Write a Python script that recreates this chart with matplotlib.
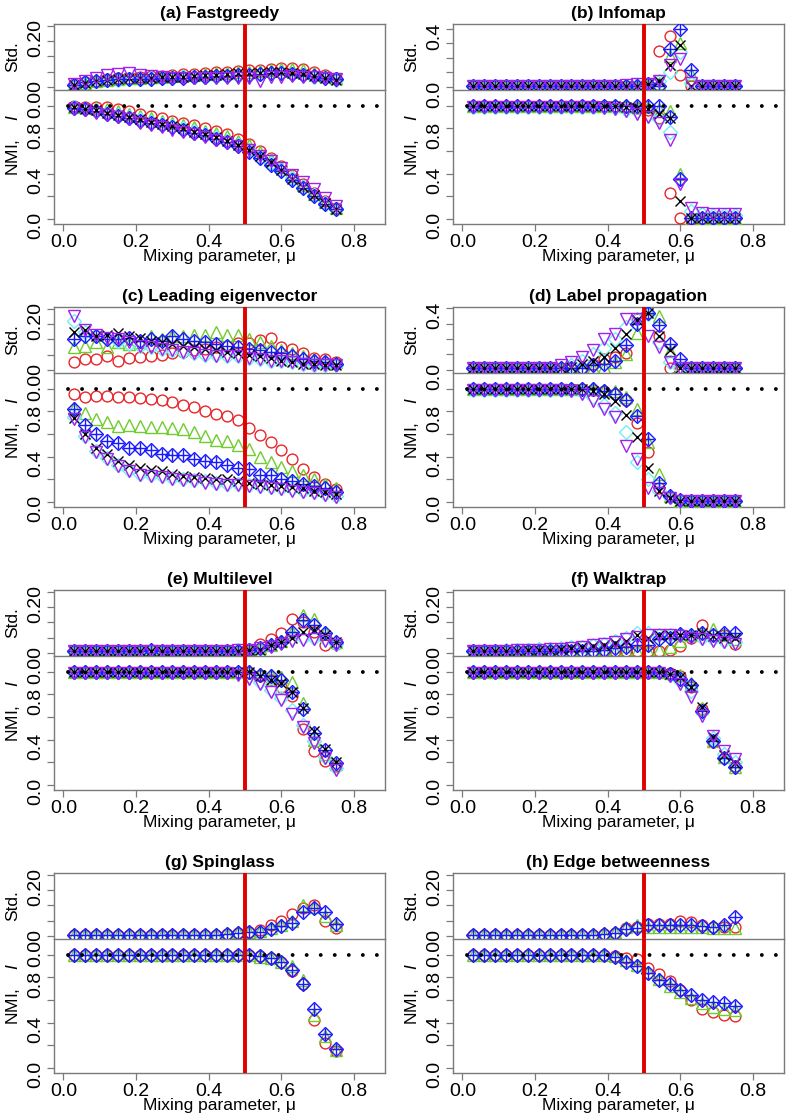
import matplotlib
matplotlib.use("Agg")
import matplotlib.pyplot as plt

plt.rcParams["font.family"] = ["Liberation Sans", "DejaVu Sans"]
plt.rcParams["mathtext.fontset"] = "custom"
plt.rcParams["mathtext.rm"] = "Liberation Sans"
plt.rcParams["mathtext.it"] = "Liberation Sans:italic"

# mixing parameter values
mu = [0.03, 0.06, 0.09, 0.12, 0.15, 0.18, 0.21, 0.24, 0.27, 0.30, 0.33, 0.36, 0.39,
      0.42, 0.45, 0.48, 0.51, 0.54, 0.57, 0.60, 0.63, 0.66, 0.69, 0.72, 0.75]

# series order in every table: red, green, cyan, blue, black, purple
# (g) and (h) only have red, green, blue

# ---- (a) Fastgreedy
fastgreedy_nmi = [
    [1.00, 0.99, 0.99, 0.99, 0.97, 0.95, 0.93, 0.91, 0.89, 0.87, 0.85, 0.83, 0.80, 0.78, 0.75, 0.71, 0.66, 0.60, 0.54, 0.47, 0.39, 0.31, 0.23, 0.16, 0.10],
    [0.99, 0.99, 0.98, 0.97, 0.95, 0.93, 0.91, 0.89, 0.87, 0.85, 0.83, 0.81, 0.78, 0.76, 0.73, 0.69, 0.65, 0.59, 0.53, 0.46, 0.38, 0.30, 0.22, 0.15, 0.10],
    [0.99, 0.97, 0.96, 0.94, 0.92, 0.90, 0.88, 0.86, 0.84, 0.82, 0.80, 0.78, 0.75, 0.72, 0.69, 0.65, 0.61, 0.55, 0.49, 0.43, 0.36, 0.28, 0.21, 0.14, 0.09],
    [0.98, 0.97, 0.95, 0.93, 0.91, 0.89, 0.87, 0.85, 0.83, 0.81, 0.79, 0.76, 0.74, 0.71, 0.68, 0.64, 0.59, 0.54, 0.48, 0.42, 0.34, 0.27, 0.20, 0.13, 0.09],
    [0.99, 0.97, 0.96, 0.94, 0.92, 0.90, 0.88, 0.86, 0.84, 0.82, 0.80, 0.77, 0.75, 0.72, 0.69, 0.65, 0.61, 0.56, 0.50, 0.43, 0.35, 0.28, 0.21, 0.14, 0.09],
    [0.97, 0.96, 0.94, 0.92, 0.90, 0.88, 0.85, 0.83, 0.81, 0.79, 0.77, 0.75, 0.72, 0.70, 0.67, 0.64, 0.61, 0.56, 0.51, 0.45, 0.39, 0.33, 0.26, 0.18, 0.11],
]
fastgreedy_std = [
    [0.008, 0.015, 0.020, 0.025, 0.028, 0.030, 0.033, 0.035, 0.037, 0.039, 0.041, 0.043, 0.046, 0.048, 0.050, 0.052, 0.054, 0.057, 0.060, 0.063, 0.062, 0.058, 0.048, 0.038, 0.030],
    [0.008, 0.014, 0.019, 0.023, 0.026, 0.028, 0.030, 0.032, 0.034, 0.036, 0.038, 0.040, 0.042, 0.044, 0.046, 0.048, 0.050, 0.053, 0.056, 0.060, 0.059, 0.055, 0.046, 0.036, 0.028],
    [0.006, 0.013, 0.018, 0.022, 0.024, 0.026, 0.027, 0.028, 0.029, 0.030, 0.031, 0.032, 0.033, 0.034, 0.035, 0.037, 0.039, 0.041, 0.043, 0.044, 0.042, 0.039, 0.034, 0.029, 0.024],
    [0.005, 0.015, 0.020, 0.022, 0.025, 0.025, 0.025, 0.027, 0.030, 0.030, 0.030, 0.032, 0.033, 0.035, 0.035, 0.038, 0.040, 0.042, 0.045, 0.045, 0.043, 0.040, 0.035, 0.030, 0.025],
    [0.006, 0.014, 0.020, 0.024, 0.027, 0.028, 0.029, 0.030, 0.031, 0.032, 0.034, 0.036, 0.038, 0.040, 0.042, 0.044, 0.046, 0.047, 0.048, 0.048, 0.046, 0.042, 0.036, 0.030, 0.024],
    [0.008, 0.020, 0.030, 0.040, 0.042, 0.044, 0.040, 0.035, 0.033, 0.030, 0.030, 0.030, 0.029, 0.029, 0.029, 0.030, 0.030, 0.020, 0.032, 0.034, 0.035, 0.034, 0.032, 0.030, 0.026],
]

# ---- (b) Infomap
infomap_nmi = [
    [1.00, 1.00, 1.00, 1.00, 1.00, 1.00, 1.00, 1.00, 1.00, 1.00, 1.00, 1.00, 1.00, 1.00, 0.99, 0.98, 0.96, 0.89, 0.23, 0.01, 0.00, 0.01, 0.01, 0.01, 0.01],
    [1.00, 1.00, 1.00, 1.00, 1.00, 1.00, 1.00, 1.00, 1.00, 1.00, 1.00, 1.00, 1.00, 1.00, 1.00, 0.99, 0.99, 0.97, 0.95, 0.40, 0.00, 0.01, 0.01, 0.01, 0.01],
    [0.99, 0.99, 0.99, 0.99, 0.99, 0.99, 0.99, 0.99, 0.99, 0.99, 0.99, 0.99, 0.99, 0.98, 0.96, 0.95, 0.92, 0.88, 0.77, 0.35, 0.07, 0.04, 0.03, 0.03, 0.03],
    [1.00, 1.00, 1.00, 1.00, 1.00, 1.00, 1.00, 1.00, 1.00, 1.00, 1.00, 1.00, 1.00, 1.00, 1.00, 1.00, 1.00, 1.00, 0.90, 0.35, 0.01, 0.01, 0.01, 0.01, 0.01],
    [1.00, 1.00, 1.00, 1.00, 1.00, 1.00, 1.00, 1.00, 1.00, 1.00, 1.00, 1.00, 1.00, 1.00, 0.99, 0.98, 0.97, 0.93, 0.89, 0.16, 0.01, 0.01, 0.01, 0.01, 0.01],
    [0.99, 0.99, 0.99, 0.99, 0.99, 0.99, 0.99, 0.99, 0.99, 0.99, 0.99, 0.99, 0.98, 0.97, 0.95, 0.93, 0.90, 0.85, 0.70, 0.31, 0.10, 0.05, 0.04, 0.04, 0.04],
]
infomap_std = [
    [0.01, 0.01, 0.01, 0.01, 0.01, 0.01, 0.01, 0.01, 0.01, 0.01, 0.01, 0.01, 0.01, 0.01, 0.01, 0.01, 0.02, 0.25, 0.35, 0.08, 0.01, 0.01, 0.01, 0.01, 0.01],
    [0.01, 0.01, 0.01, 0.01, 0.01, 0.01, 0.01, 0.01, 0.01, 0.01, 0.01, 0.01, 0.01, 0.01, 0.01, 0.01, 0.02, 0.03, 0.21, 0.30, 0.09, 0.01, 0.01, 0.01, 0.01],
    [0.01, 0.01, 0.01, 0.01, 0.01, 0.01, 0.01, 0.01, 0.01, 0.01, 0.01, 0.01, 0.01, 0.01, 0.01, 0.015, 0.02, 0.04, 0.10, 0.24, 0.03, 0.01, 0.01, 0.01, 0.01],
    [0.01, 0.01, 0.01, 0.01, 0.01, 0.01, 0.01, 0.01, 0.01, 0.01, 0.01, 0.01, 0.01, 0.01, 0.01, 0.01, 0.02, 0.01, 0.26, 0.40, 0.12, 0.01, 0.01, 0.01, 0.01],
    [0.01, 0.01, 0.01, 0.01, 0.01, 0.01, 0.01, 0.01, 0.01, 0.01, 0.01, 0.01, 0.01, 0.01, 0.01, 0.01, 0.02, 0.04, 0.15, 0.29, 0.01, 0.01, 0.01, 0.01, 0.01],
    [0.01, 0.01, 0.01, 0.01, 0.01, 0.01, 0.01, 0.01, 0.01, 0.01, 0.01, 0.01, 0.01, 0.01, 0.015, 0.02, 0.02, 0.04, 0.15, 0.19, 0.03, 0.01, 0.01, 0.01, 0.01],
]

# ---- (c) Leading eigenvector
eigenvector_nmi = [
    [0.95, 0.93, 0.94, 0.94, 0.93, 0.93, 0.92, 0.91, 0.90, 0.88, 0.86, 0.84, 0.80, 0.78, 0.76, 0.72, 0.65, 0.59, 0.53, 0.46, 0.38, 0.29, 0.22, 0.16, 0.11],
    [0.83, 0.79, 0.73, 0.71, 0.67, 0.68, 0.67, 0.66, 0.66, 0.65, 0.64, 0.62, 0.58, 0.55, 0.54, 0.50, 0.47, 0.40, 0.35, 0.31, 0.27, 0.24, 0.20, 0.16, 0.12],
    [0.75, 0.58, 0.45, 0.39, 0.33, 0.28, 0.25, 0.24, 0.23, 0.21, 0.20, 0.19, 0.18, 0.17, 0.16, 0.16, 0.15, 0.14, 0.13, 0.12, 0.11, 0.10, 0.09, 0.07, 0.05],
    [0.82, 0.68, 0.60, 0.54, 0.52, 0.48, 0.48, 0.46, 0.42, 0.41, 0.41, 0.38, 0.36, 0.35, 0.33, 0.30, 0.29, 0.24, 0.24, 0.20, 0.18, 0.16, 0.14, 0.12, 0.09],
    [0.74, 0.60, 0.48, 0.42, 0.36, 0.33, 0.30, 0.28, 0.27, 0.25, 0.23, 0.22, 0.21, 0.20, 0.20, 0.18, 0.17, 0.16, 0.15, 0.14, 0.13, 0.12, 0.10, 0.09, 0.07],
    [0.73, 0.57, 0.44, 0.38, 0.32, 0.27, 0.24, 0.23, 0.22, 0.20, 0.19, 0.18, 0.17, 0.16, 0.15, 0.15, 0.14, 0.13, 0.12, 0.11, 0.10, 0.09, 0.08, 0.06, 0.04],
]
eigenvector_std = [
    [0.027, 0.037, 0.035, 0.045, 0.030, 0.038, 0.042, 0.045, 0.050, 0.055, 0.060, 0.065, 0.070, 0.075, 0.080, 0.089, 0.089, 0.099, 0.105, 0.076, 0.069, 0.056, 0.040, 0.035, 0.025],
    [0.074, 0.079, 0.090, 0.075, 0.093, 0.085, 0.090, 0.110, 0.100, 0.110, 0.110, 0.115, 0.115, 0.125, 0.115, 0.115, 0.100, 0.090, 0.080, 0.065, 0.055, 0.045, 0.035, 0.030, 0.025],
    [0.160, 0.125, 0.110, 0.100, 0.095, 0.085, 0.080, 0.075, 0.070, 0.065, 0.060, 0.055, 0.050, 0.050, 0.045, 0.045, 0.040, 0.035, 0.030, 0.030, 0.025, 0.020, 0.015, 0.015, 0.015],
    [0.100, 0.110, 0.110, 0.100, 0.100, 0.105, 0.095, 0.100, 0.095, 0.110, 0.100, 0.095, 0.090, 0.085, 0.080, 0.075, 0.070, 0.065, 0.060, 0.055, 0.045, 0.035, 0.030, 0.025, 0.020],
    [0.125, 0.130, 0.110, 0.115, 0.120, 0.110, 0.105, 0.095, 0.090, 0.085, 0.080, 0.075, 0.070, 0.065, 0.060, 0.055, 0.050, 0.045, 0.040, 0.030, 0.025, 0.020, 0.020, 0.015, 0.015],
    [0.175, 0.130, 0.115, 0.105, 0.100, 0.090, 0.080, 0.075, 0.070, 0.065, 0.060, 0.055, 0.050, 0.045, 0.045, 0.045, 0.040, 0.035, 0.030, 0.030, 0.025, 0.020, 0.015, 0.015, 0.015],
]

# ---- (d) Label propagation
labelprop_nmi = [
    [1.00, 1.00, 1.00, 1.00, 1.00, 1.00, 1.00, 1.00, 1.00, 1.00, 1.00, 0.99, 0.98, 0.95, 0.90, 0.70, 0.44, 0.12, 0.04, 0.01, 0.01, 0.01, 0.01, 0.01, 0.01],
    [1.00, 1.00, 1.00, 1.00, 1.00, 1.00, 1.00, 1.00, 1.00, 1.00, 1.00, 1.00, 0.99, 0.98, 0.93, 0.82, 0.53, 0.25, 0.05, 0.01, 0.01, 0.01, 0.01, 0.01, 0.01],
    [0.99, 0.99, 0.99, 0.99, 0.99, 0.99, 0.99, 0.99, 0.99, 0.99, 0.97, 0.93, 0.86, 0.79, 0.62, 0.35, 0.20, 0.10, 0.04, 0.01, 0.01, 0.01, 0.01, 0.01, 0.01],
    [1.00, 1.00, 1.00, 1.00, 1.00, 1.00, 1.00, 1.00, 1.00, 1.00, 1.00, 1.00, 0.98, 0.95, 0.90, 0.76, 0.56, 0.17, 0.05, 0.02, 0.01, 0.01, 0.01, 0.01, 0.01],
    [1.00, 1.00, 1.00, 1.00, 1.00, 1.00, 1.00, 1.00, 1.00, 1.00, 1.00, 0.98, 0.95, 0.89, 0.77, 0.57, 0.30, 0.10, 0.03, 0.01, 0.01, 0.01, 0.01, 0.01, 0.01],
    [0.99, 0.99, 0.99, 0.99, 0.99, 0.99, 0.99, 0.99, 0.99, 0.98, 0.95, 0.89, 0.82, 0.75, 0.49, 0.38, 0.12, 0.08, 0.03, 0.01, 0.01, 0.01, 0.01, 0.01, 0.01],
]
labelprop_std = [
    [0.01, 0.01, 0.01, 0.01, 0.01, 0.01, 0.01, 0.01, 0.01, 0.01, 0.01, 0.04, 0.07, 0.08, 0.11, 0.33, 0.37, 0.22, 0.01, 0.01, 0.01, 0.01, 0.01, 0.01, 0.01],
    [0.01, 0.01, 0.01, 0.01, 0.01, 0.01, 0.01, 0.01, 0.01, 0.01, 0.01, 0.01, 0.02, 0.05, 0.10, 0.24, 0.40, 0.35, 0.12, 0.01, 0.01, 0.01, 0.01, 0.01, 0.01],
    [0.01, 0.01, 0.01, 0.01, 0.01, 0.01, 0.01, 0.01, 0.01, 0.03, 0.06, 0.10, 0.14, 0.20, 0.28, 0.33, 0.36, 0.18, 0.05, 0.01, 0.01, 0.01, 0.01, 0.01, 0.01],
    [0.01, 0.01, 0.01, 0.01, 0.01, 0.01, 0.01, 0.01, 0.01, 0.01, 0.01, 0.03, 0.04, 0.06, 0.16, 0.30, 0.37, 0.29, 0.17, 0.07, 0.01, 0.01, 0.01, 0.01, 0.01],
    [0.01, 0.01, 0.01, 0.01, 0.01, 0.01, 0.01, 0.01, 0.01, 0.02, 0.04, 0.06, 0.08, 0.14, 0.23, 0.32, 0.37, 0.22, 0.13, 0.01, 0.01, 0.01, 0.01, 0.01, 0.01],
    [0.01, 0.01, 0.01, 0.01, 0.01, 0.01, 0.01, 0.01, 0.03, 0.05, 0.08, 0.13, 0.20, 0.23, 0.33, 0.33, 0.22, 0.15, 0.05, 0.01, 0.01, 0.01, 0.01, 0.01, 0.01],
]

# ---- (e) Multilevel
multilevel_nmi = [
    [1.00, 1.00, 1.00, 1.00, 1.00, 1.00, 1.00, 1.00, 1.00, 1.00, 1.00, 1.00, 1.00, 1.00, 1.00, 1.00, 0.99, 0.96, 0.93, 0.87, 0.79, 0.49, 0.30, 0.21, 0.17],
    [1.00, 1.00, 1.00, 1.00, 1.00, 1.00, 1.00, 1.00, 1.00, 1.00, 1.00, 1.00, 1.00, 1.00, 1.00, 1.00, 1.00, 0.98, 0.97, 0.95, 0.91, 0.72, 0.40, 0.27, 0.18],
    [1.00, 1.00, 1.00, 1.00, 1.00, 1.00, 1.00, 1.00, 1.00, 1.00, 1.00, 1.00, 1.00, 1.00, 1.00, 0.99, 0.96, 0.91, 0.84, 0.77, 0.66, 0.53, 0.39, 0.25, 0.15],
    [1.00, 1.00, 1.00, 1.00, 1.00, 1.00, 1.00, 1.00, 1.00, 1.00, 1.00, 1.00, 1.00, 1.00, 1.00, 1.00, 1.00, 0.97, 0.96, 0.93, 0.82, 0.67, 0.46, 0.31, 0.19],
    [1.00, 1.00, 1.00, 1.00, 1.00, 1.00, 1.00, 1.00, 1.00, 1.00, 1.00, 1.00, 1.00, 1.00, 1.00, 1.00, 1.00, 0.96, 0.93, 0.90, 0.82, 0.68, 0.48, 0.32, 0.20],
    [0.99, 0.99, 0.99, 0.99, 0.99, 0.99, 0.99, 0.99, 0.99, 0.99, 0.99, 0.99, 0.99, 0.99, 0.99, 0.97, 0.94, 0.89, 0.82, 0.75, 0.63, 0.51, 0.37, 0.24, 0.13],
]
multilevel_std = [
    [0.005, 0.005, 0.005, 0.005, 0.005, 0.005, 0.005, 0.005, 0.005, 0.005, 0.005, 0.005, 0.005, 0.005, 0.005, 0.008, 0.010, 0.030, 0.045, 0.065, 0.110, 0.100, 0.070, 0.027, 0.030],
    [0.005, 0.005, 0.005, 0.005, 0.005, 0.005, 0.005, 0.005, 0.005, 0.005, 0.005, 0.005, 0.005, 0.005, 0.005, 0.008, 0.010, 0.015, 0.025, 0.040, 0.070, 0.125, 0.110, 0.070, 0.035],
    [0.005, 0.005, 0.005, 0.005, 0.005, 0.005, 0.005, 0.005, 0.005, 0.005, 0.005, 0.005, 0.005, 0.005, 0.005, 0.010, 0.010, 0.015, 0.025, 0.035, 0.050, 0.050, 0.050, 0.045, 0.030],
    [0.005, 0.005, 0.005, 0.005, 0.005, 0.005, 0.005, 0.010, 0.005, 0.005, 0.005, 0.005, 0.005, 0.005, 0.005, 0.008, 0.010, 0.015, 0.025, 0.035, 0.070, 0.107, 0.093, 0.065, 0.035],
    [0.005, 0.005, 0.005, 0.005, 0.005, 0.005, 0.005, 0.005, 0.005, 0.005, 0.005, 0.005, 0.005, 0.005, 0.005, 0.008, 0.010, 0.010, 0.025, 0.035, 0.050, 0.068, 0.075, 0.060, 0.035],
    [0.005, 0.005, 0.005, 0.005, 0.005, 0.005, 0.005, 0.005, 0.005, 0.005, 0.005, 0.005, 0.005, 0.005, 0.008, 0.010, 0.010, 0.015, 0.020, 0.030, 0.040, 0.042, 0.045, 0.040, 0.025],
]

# ---- (f) Walktrap
walktrap_nmi = [
    [1.00, 1.00, 1.00, 1.00, 1.00, 1.00, 1.00, 1.00, 1.00, 1.00, 1.00, 1.00, 1.00, 1.00, 1.00, 1.00, 1.00, 1.00, 0.99, 0.96, 0.87, 0.67, 0.38, 0.24, 0.17],
    [1.00, 1.00, 1.00, 1.00, 1.00, 1.00, 1.00, 1.00, 1.00, 1.00, 1.00, 1.00, 1.00, 1.00, 1.00, 1.00, 1.00, 1.00, 0.99, 0.97, 0.90, 0.68, 0.39, 0.25, 0.16],
    [1.00, 1.00, 1.00, 1.00, 1.00, 1.00, 1.00, 1.00, 1.00, 1.00, 1.00, 1.00, 1.00, 1.00, 1.00, 1.00, 1.00, 1.00, 0.97, 0.92, 0.83, 0.64, 0.41, 0.27, 0.20],
    [1.00, 1.00, 1.00, 1.00, 1.00, 1.00, 1.00, 1.00, 1.00, 1.00, 1.00, 1.00, 1.00, 1.00, 1.00, 1.00, 1.00, 1.00, 0.98, 0.94, 0.88, 0.65, 0.39, 0.24, 0.16],
    [1.00, 1.00, 1.00, 1.00, 1.00, 1.00, 1.00, 1.00, 1.00, 1.00, 1.00, 1.00, 1.00, 1.00, 1.00, 1.00, 1.00, 1.00, 0.98, 0.95, 0.87, 0.69, 0.42, 0.26, 0.19],
    [0.99, 0.99, 0.99, 0.99, 0.99, 0.99, 0.99, 0.99, 0.99, 0.99, 0.99, 0.99, 0.99, 0.99, 0.99, 0.99, 0.99, 0.99, 0.96, 0.89, 0.78, 0.61, 0.43, 0.30, 0.23],
]
walktrap_std = [
    [0.005, 0.005, 0.005, 0.005, 0.005, 0.005, 0.005, 0.005, 0.005, 0.005, 0.005, 0.005, 0.005, 0.005, 0.005, 0.005, 0.005, 0.005, 0.009, 0.022, 0.050, 0.090, 0.060, 0.060, 0.030],
    [0.005, 0.005, 0.005, 0.005, 0.005, 0.005, 0.005, 0.005, 0.005, 0.005, 0.005, 0.005, 0.005, 0.005, 0.005, 0.005, 0.005, 0.010, 0.020, 0.040, 0.060, 0.070, 0.079, 0.060, 0.045],
    [0.006, 0.007, 0.008, 0.009, 0.010, 0.011, 0.012, 0.014, 0.016, 0.018, 0.020, 0.025, 0.030, 0.038, 0.050, 0.065, 0.065, 0.060, 0.060, 0.058, 0.055, 0.050, 0.045, 0.040, 0.035],
    [0.005, 0.005, 0.005, 0.005, 0.005, 0.005, 0.005, 0.005, 0.005, 0.005, 0.005, 0.005, 0.010, 0.015, 0.020, 0.025, 0.027, 0.045, 0.050, 0.063, 0.060, 0.065, 0.060, 0.065, 0.065],
    [0.005, 0.005, 0.006, 0.007, 0.008, 0.009, 0.010, 0.011, 0.013, 0.015, 0.018, 0.022, 0.027, 0.033, 0.040, 0.060, 0.050, 0.060, 0.060, 0.060, 0.060, 0.065, 0.055, 0.050, 0.050],
    [0.005, 0.006, 0.007, 0.008, 0.009, 0.010, 0.010, 0.012, 0.014, 0.015, 0.018, 0.025, 0.030, 0.035, 0.045, 0.052, 0.060, 0.060, 0.060, 0.055, 0.050, 0.045, 0.040, 0.035, 0.030],
]

# ---- (g) Spinglass  (red, green, blue)
spinglass_nmi = [
    [1.00, 1.00, 1.00, 1.00, 1.00, 1.00, 1.00, 1.00, 1.00, 1.00, 1.00, 1.00, 1.00, 1.00, 1.00, 1.00, 1.00, 0.99, 0.97, 0.94, 0.86, 0.74, 0.42, 0.22, 0.15],
    [1.00, 1.00, 1.00, 1.00, 1.00, 1.00, 1.00, 1.00, 1.00, 1.00, 1.00, 1.00, 1.00, 1.00, 1.00, 1.00, 1.00, 0.98, 0.97, 0.94, 0.90, 0.78, 0.47, 0.28, 0.16],
    [1.00, 1.00, 1.00, 1.00, 1.00, 1.00, 1.00, 1.00, 1.00, 1.00, 1.00, 1.00, 1.00, 1.00, 1.00, 1.00, 1.00, 0.99, 0.97, 0.94, 0.87, 0.74, 0.52, 0.30, 0.17],
]
spinglass_std = [
    [0.002, 0.002, 0.002, 0.002, 0.002, 0.002, 0.002, 0.002, 0.002, 0.002, 0.002, 0.002, 0.002, 0.002, 0.005, 0.010, 0.012, 0.020, 0.036, 0.050, 0.071, 0.090, 0.100, 0.050, 0.027],
    [0.002, 0.002, 0.002, 0.002, 0.002, 0.002, 0.002, 0.002, 0.002, 0.002, 0.002, 0.002, 0.002, 0.002, 0.006, 0.012, 0.012, 0.015, 0.025, 0.035, 0.050, 0.100, 0.095, 0.065, 0.035],
    [0.002, 0.002, 0.002, 0.002, 0.002, 0.002, 0.002, 0.002, 0.002, 0.002, 0.002, 0.002, 0.002, 0.002, 0.005, 0.010, 0.012, 0.014, 0.023, 0.033, 0.044, 0.077, 0.091, 0.077, 0.038],
]

# ---- (h) Edge betweenness  (red, green, blue)
betweenness_nmi = [
    [1.00, 1.00, 1.00, 1.00, 1.00, 1.00, 1.00, 1.00, 1.00, 1.00, 1.00, 1.00, 1.00, 0.99, 0.97, 0.96, 0.88, 0.83, 0.77, 0.69, 0.60, 0.52, 0.49, 0.47, 0.46],
    [1.00, 1.00, 1.00, 1.00, 1.00, 1.00, 1.00, 1.00, 1.00, 1.00, 1.00, 1.00, 1.00, 0.99, 0.95, 0.91, 0.85, 0.79, 0.72, 0.67, 0.62, 0.57, 0.54, 0.52, 0.51],
    [1.00, 1.00, 1.00, 1.00, 1.00, 1.00, 1.00, 1.00, 1.00, 1.00, 1.00, 1.00, 1.00, 0.98, 0.94, 0.90, 0.84, 0.78, 0.74, 0.69, 0.64, 0.60, 0.58, 0.57, 0.55],
]
betweenness_std = [
    [0.002, 0.002, 0.002, 0.002, 0.002, 0.002, 0.002, 0.002, 0.002, 0.002, 0.002, 0.002, 0.005, 0.010, 0.025, 0.030, 0.040, 0.040, 0.040, 0.049, 0.047, 0.035, 0.028, 0.030, 0.028],
    [0.002, 0.002, 0.002, 0.002, 0.002, 0.002, 0.002, 0.002, 0.002, 0.002, 0.002, 0.002, 0.006, 0.012, 0.030, 0.035, 0.030, 0.030, 0.030, 0.030, 0.030, 0.028, 0.025, 0.025, 0.025],
    [0.002, 0.002, 0.002, 0.002, 0.002, 0.002, 0.002, 0.002, 0.002, 0.002, 0.002, 0.002, 0.005, 0.009, 0.022, 0.027, 0.036, 0.035, 0.035, 0.035, 0.035, 0.033, 0.028, 0.035, 0.063],
]

titles = ["(a) Fastgreedy", "(b) Infomap", "(c) Leading eigenvector", "(d) Label propagation",
          "(e) Multilevel", "(f) Walktrap", "(g) Spinglass", "(h) Edge betweenness"]

# marker styles, same order as the tables
STYLE_ALL = [
    dict(marker="o", color="#e8262a", ms=7.8),
    dict(marker="^", color="#6fcc2e", ms=8.5),
    dict(marker="D", color="#6ff0f0", ms=7.0),
    dict(marker="D", color="#1a1aff", ms=7.0, plus=True),
    dict(marker="x", color="black", ms=7.0),
    dict(marker="v", color="#a020f0", ms=8.5),
]
STYLE_RGB = [STYLE_ALL[0], STYLE_ALL[1], STYLE_ALL[3]]

W, H = 787, 1115
FRAME = "#7a7a7a"
COL_X = [54, 453]
ROW_Y = [24, 307, 590, 873]
BOX_W, STD_H, NMI_H = 331, 66, 134
XLIM = (-0.026, 0.885)
FS = 12.5       # titles and axis labels
FS_TICK = 14    # tick labels


def px_axes(fig, x0, y0, w, h):
    return fig.add_axes([x0 / W, 1 - (y0 + h) / H, w / W, h / H])


def plot_series(ax, y, style):
    ax.plot(mu, y, linestyle="none", marker=style["marker"], ms=style["ms"],
            mfc="none", mec=style["color"], mew=1.0, zorder=3)
    if style.get("plus"):
        ax.plot(mu, y, linestyle="none", marker="+", ms=style["ms"] + 1,
                mec=style["color"], mew=1.0, zorder=3)


def style_axis(ax):
    for s in ax.spines.values():
        s.set_color(FRAME)
        s.set_linewidth(1.0)
    ax.tick_params(direction="out", length=5, width=0.9, color=FRAME,
                   labelsize=FS_TICK, pad=2)
    ax.tick_params(axis="y", labelrotation=90)
    ax.set_xlim(*XLIM)


def draw_panel(fig, x0, y0, title, nmi, std, styles, std_top):
    ax_s = px_axes(fig, x0, y0, BOX_W, STD_H)
    ax_n = px_axes(fig, x0, y0 + STD_H, BOX_W, NMI_H)
    for ax in (ax_s, ax_n):
        style_axis(ax)
        ax.axvline(0.5, color="#e00000", lw=2.8, zorder=5)

    ax_s.spines["bottom"].set_visible(False)
    ax_s.set_xticks([])
    if std_top > 0.3:
        ax_s.set_ylim(-0.021, std_top)
        ax_s.set_yticks([0, 0.1, 0.2, 0.3, 0.4])
        ax_s.set_yticklabels(["0.0", "", "", "", "0.4"])
    else:
        ax_s.set_ylim(-0.010, std_top)
        ax_s.set_yticks([0, 0.05, 0.1, 0.15, 0.2])
        ax_s.set_yticklabels(["0.00", "", "", "", "0.20"])
    for y, st in zip(std, styles):
        plot_series(ax_s, y, st)
    ax_s.set_ylabel("Std.", fontsize=FS, va="center")
    ax_s.yaxis.set_label_coords(-0.125, 0.5)
    ax_s.set_title(title, fontsize=FS, fontweight="bold", pad=4)

    ax_n.set_ylim(-0.046, 1.14)
    ax_n.set_yticks([0, 0.2, 0.4, 0.6, 0.8, 1.0])
    ax_n.set_yticklabels(["0.0", "", "0.4", "", "0.8", ""])
    ax_n.set_xticks([0, 0.2, 0.4, 0.6, 0.8])
    ax_n.set_xticklabels(["0.0", "0.2", "0.4", "0.6", "0.8"])
    ax_n.axhline(1.0, xmin=0.041, xmax=1.0, color="black", lw=2.8,
                 linestyle=(0, (0.01, 3.6)), dash_capstyle="round", zorder=4)
    for y, st in zip(nmi, styles):
        plot_series(ax_n, y, st)
    ax_n.set_ylabel("NMI,    $I$", fontsize=FS, va="center")
    ax_n.yaxis.set_label_coords(-0.125, 0.59)
    ax_n.set_xlabel("Mixing parameter, μ", fontsize=FS)
    ax_n.xaxis.set_label_coords(0.5, -0.185)


fig = plt.figure(figsize=(W / 100, H / 100), dpi=100)

panels = [
    (fastgreedy_nmi, fastgreedy_std, STYLE_ALL, 0.206),
    (infomap_nmi, infomap_std, STYLE_ALL, 0.434),
    (eigenvector_nmi, eigenvector_std, STYLE_ALL, 0.206),
    (labelprop_nmi, labelprop_std, STYLE_ALL, 0.407),
    (multilevel_nmi, multilevel_std, STYLE_ALL, 0.206),
    (walktrap_nmi, walktrap_std, STYLE_ALL, 0.206),
    (spinglass_nmi, spinglass_std, STYLE_RGB, 0.206),
    (betweenness_nmi, betweenness_std, STYLE_RGB, 0.206),
]

for i, (nmi, std, styles, top) in enumerate(panels):
    draw_panel(fig, COL_X[i % 2], ROW_Y[i // 2], titles[i], nmi, std, styles, top)

fig.savefig("out.png", dpi=100)
